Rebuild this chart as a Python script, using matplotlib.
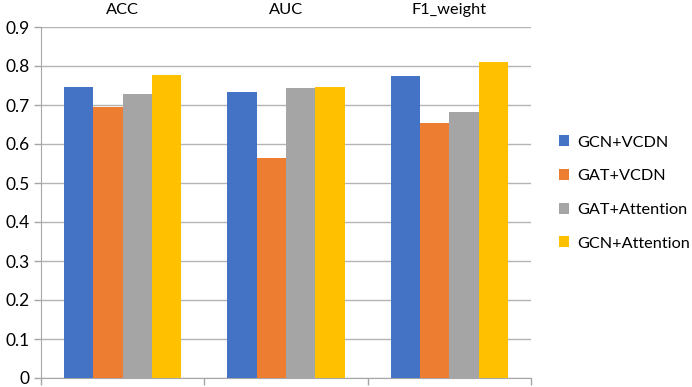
import numpy as np
import matplotlib.pyplot as plt

categories = ['ACC', 'AUC', 'F1_weight']
series = ['GCN+VCDN', 'GAT+VCDN', 'GAT+Attention', 'GCN+Attention']
gcn_vcdn = [0.745, 0.733, 0.774]
gat_vcdn = [0.696, 0.565, 0.653]
gat_attention = [0.728, 0.743, 0.682]
gcn_attention = [0.778, 0.747, 0.810]
colors = ['#4472C4', '#ED7D31', '#A5A5A5', '#FFC000']

plt.rcParams['font.family'] = ['Lato', 'DejaVu Sans']


def main():
    fig = plt.figure(figsize=(6.92, 3.87), dpi=100)
    ax = fig.add_axes([41 / 692, 9 / 387, 490 / 692, 351 / 387])

    x = np.arange(len(categories))
    width = 0.18
    values = [gcn_vcdn, gat_vcdn, gat_attention, gcn_attention]
    for i, (name, vals) in enumerate(zip(series, values)):
        ax.bar(x + (i - 1.5) * width, vals, width, color=colors[i], label=name, zorder=3)

    ax.set_xlim(-0.5, len(categories) - 0.5)
    ax.set_ylim(0, 0.9)
    ax.set_yticks(np.arange(0, 0.91, 0.1))
    ax.set_yticklabels(['0'] + ['%.1f' % v for v in np.arange(0.1, 0.91, 0.1)])
    ax.yaxis.grid(True, color='#B4B4B4', linewidth=1, zorder=0)

    # category boundaries as bottom ticks
    ax.set_xticks(np.arange(-0.5, len(categories), 1.0))
    ax.set_xticklabels([])
    ax.tick_params(axis='x', length=5, color='#A6A6A6', width=1)
    ax.tick_params(axis='y', length=5, color='#A6A6A6', width=1, labelsize=12.5, pad=3)

    for s in ['top', 'right']:
        ax.spines[s].set_visible(False)
    for s in ['left', 'bottom']:
        ax.spines[s].set_color('#A6A6A6')

    top = ax.secondary_xaxis('top')
    top.set_xticks(x)
    top.set_xticklabels(categories, fontsize=11.8)
    top.tick_params(length=0, pad=7)
    top.spines['top'].set_visible(False)

    fig.legend(loc='upper left', bbox_to_anchor=(552 / 692, 1 - 129 / 387),
               frameon=False, fontsize=11.7, handlelength=0.65, handleheight=0.65,
               handletextpad=0.5, labelspacing=1.2, borderaxespad=0)

    fig.savefig('out.png', dpi=100)


if __name__ == '__main__':
    main()
